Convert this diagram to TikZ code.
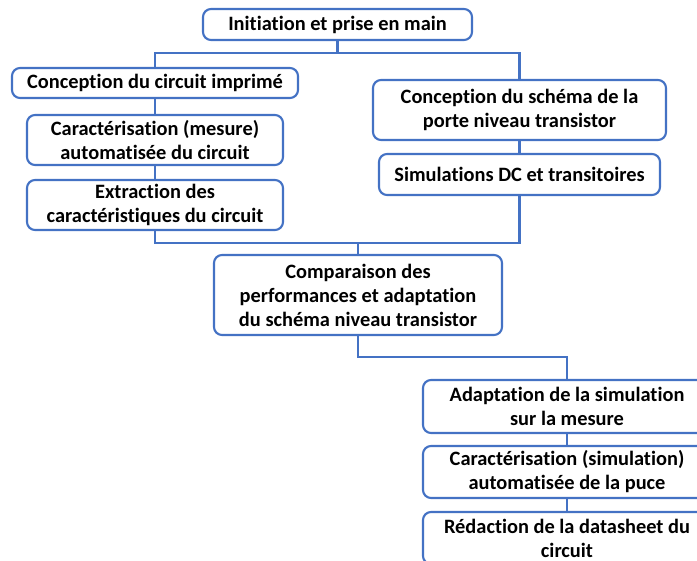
\documentclass[tikz,border=0pt]{standalone}
\usepackage{fontspec}
\setmainfont{Carlito}[Ligatures={NoCommon}]
\usetikzlibrary{positioning}
\definecolor{bordbleu}{HTML}{4472C4}

\tikzset{
  etape/.style={draw=bordbleu, line width=1.6pt, rounded corners=6pt, fill=white,
    align=center, inner sep=0pt, font=\fontsize{15.3}{18}\selectfont\bfseries},
  lien/.style={draw=bordbleu, line width=1.6pt}
}

\begin{document}
\begin{tikzpicture}[x=0.75pt, y=-0.75pt]
    % cadre
    \useasboundingbox (0,0) rectangle (697,561);

    % colonne de gauche
    \node[etape, minimum width=201.75pt, minimum height=23.25pt] (init) at (337.5,24.5) {Initiation et prise en main};
    \node[etape, minimum width=214.5pt, minimum height=22.5pt] (pcb) at (155,83) {Conception du circuit imprimé};
    \node[etape, minimum width=192pt, minimum height=37.5pt] (mesure) at (155,140) {Caractérisation (mesure)\\automatisée du circuit};
    \node[etape, minimum width=192pt, minimum height=37.5pt] (extract) at (155,205) {Extraction des\\caractéristiques du circuit};

    % colonne de droite
    \node[etape, minimum width=219.75pt, minimum height=45pt] (schema) at (519.5,110) {Conception du schéma de la\\porte niveau transistor};
    \node[etape, minimum width=210.75pt, minimum height=30.75pt] (simdc) at (519.5,174.5) {Simulations DC et transitoires};

    % comparaison
    \node[etape, minimum width=216pt, minimum height=60pt] (compar) at (358,295) {Comparaison des\\performances et adaptation\\du schéma niveau transistor};

    % bas a droite
    \node[etape, minimum width=216pt, minimum height=39.75pt] (adapt) at (567,406.5) {Adaptation de la simulation\\sur la mesure};
    \node[etape, minimum width=216pt, minimum height=39pt] (carsim) at (567,472) {Caractérisation (simulation)\\automatisée de la puce};
    \node[etape, minimum width=216pt, minimum height=39pt] (redac) at (567,538) {Rédaction de la datasheet du\\circuit};

    % points de jonction
    \coordinate (j1) at (337.5,53);
    \coordinate (j2) at (358,243);
    \coordinate (j3) at (358,357);

    % liens
    \draw[lien] (init) -- (j1) -| (pcb);
    \draw[lien] (j1) -| (schema);
    \draw[lien] (pcb) -- (mesure);
    \draw[lien] (mesure) -- (extract);
    \draw[lien] (schema) -- (simdc);
    \draw[lien] (extract.south) |- (j2) -| (simdc.south);
    \draw[lien] (j2) -- (compar);
    \draw[lien] (compar) -- (j3) -| (adapt);
    \draw[lien] (adapt) -- (carsim);
    \draw[lien] (carsim) -- (redac);
\end{tikzpicture}
\end{document}
